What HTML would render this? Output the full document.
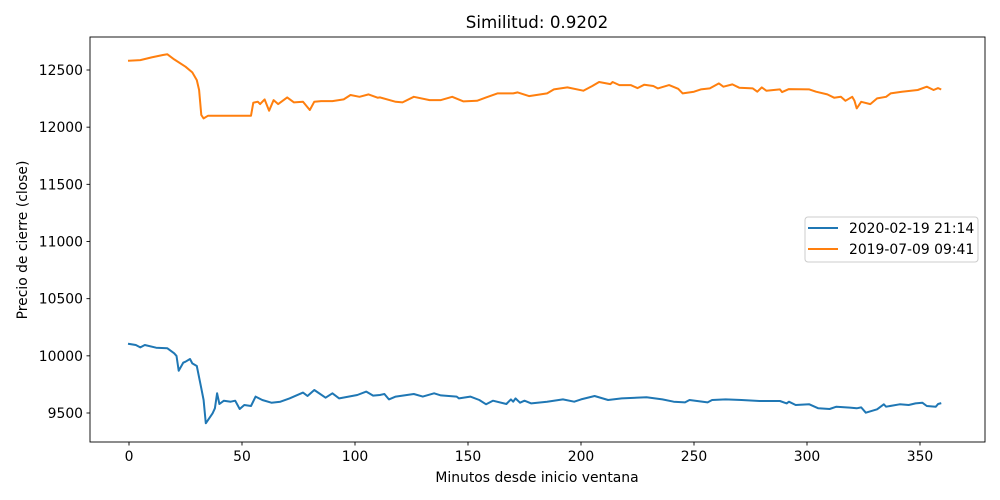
<!DOCTYPE html>
<html><head><meta charset="utf-8"><style>
html,body{margin:0;padding:0;background:#fff;}
svg{display:block;font-family:"DejaVu Sans","Liberation Sans",sans-serif;}
</style></head><body>
<svg id="chart" width="1000" height="500" viewBox="0 0 1000 500">
<rect width="1000" height="500" fill="#fff"/>
<text x="537" y="28" font-size="16.7" text-anchor="middle">Similitud: 0.9202</text>
<g id="grid"></g>
<g id="series"></g>
<rect x="90" y="37" width="895" height="405" fill="none" stroke="#000" stroke-width="0.9"/>
<g id="ticks"></g>
<text x="537" y="482" font-size="13.9" text-anchor="middle">Minutos desde inicio ventana</text>
<text transform="translate(27,240) rotate(-90)" font-size="13.9" text-anchor="middle">Precio de cierre (close)</text>
<g>
<rect x="805" y="217" width="173" height="45" rx="3" fill="#fff" fill-opacity="0.8" stroke="#ccc" stroke-width="1"/>
<line x1="808" y1="228" x2="838" y2="228" stroke="#1f77b4" stroke-width="2"/>
<text x="849" y="233" font-size="13.9">2020-02-19 21:14</text>
<line x1="808" y1="249" x2="838" y2="249" stroke="#ff7f0e" stroke-width="2"/>
<text x="849" y="254" font-size="13.9">2019-07-09 09:41</text>
</g>
</svg>
<script>
const xTicks = [0,50,100,150,200,250,300,350];
const yTicks = [9500,10000,10500,11000,11500,12000,12500];
const blueMin = [0,3,5,7,12,17,20,21,22,24,25,27,28,30,32,33,34,37,38,39,40,42,45,47,49,51,54,56,59,63,67,71,77,79,82,87,90,93,101,105,108,111,113,115,118,126,130,135,138,145,146,151,155,158,161,167,169,170,171,173,175,178,185,192,197,200,206,212,218,229,236,241,246,248,256,258,264,271,279,288,291,292,295,301,305,310,313,319,322,324,326,331,334,335,341,345,348,351,353,357,358,359];
const blueVal = [10104,10095,10074,10095,10071,10066,10022,9999,9870,9940,9949,9972,9934,9911,9716,9614,9410,9497,9541,9672,9579,9608,9599,9608,9535,9570,9561,9643,9614,9590,9599,9628,9678,9649,9701,9634,9672,9628,9657,9687,9652,9657,9666,9619,9643,9666,9643,9672,9654,9643,9628,9643,9614,9576,9608,9579,9619,9599,9628,9590,9608,9584,9599,9619,9599,9619,9649,9614,9628,9637,9619,9599,9593,9614,9593,9614,9619,9614,9605,9605,9584,9599,9570,9576,9541,9535,9555,9547,9541,9549,9503,9532,9576,9555,9576,9570,9584,9590,9561,9555,9579,9584];
const orangeMin = [0,5,10,15,17,20,25,28,30,31,32,33,35,54,55,57,58,60,62,64,66,70,73,77,80,82,85,90,95,98,102,106,110,111,118,121,126,133,138,143,148,154,158,163,170,172,177,185,188,194,201,205,208,213,214,217,222,225,228,232,234,239,243,245,250,253,257,261,263,267,270,276,278,280,282,288,289,292,301,304,309,312,315,317,320,321,322,324,328,331,335,337,342,349,353,356,358,359];
const orangeVal = [12581,12587,12610,12631,12637,12593,12529,12479,12412,12325,12106,12077,12100,12100,12214,12223,12202,12243,12144,12237,12202,12260,12217,12223,12150,12223,12228,12228,12243,12281,12266,12287,12258,12260,12222,12217,12266,12237,12237,12266,12225,12231,12260,12295,12295,12304,12272,12295,12330,12348,12319,12360,12395,12377,12395,12368,12368,12342,12371,12360,12339,12368,12336,12295,12310,12330,12339,12383,12354,12374,12345,12339,12310,12348,12319,12330,12307,12333,12330,12310,12287,12258,12266,12231,12266,12231,12164,12222,12202,12252,12266,12295,12310,12325,12354,12325,12342,12333];

const NS = 'http://www.w3.org/2000/svg';
function xScale(m){ return 129 + m * 2.26; }
function yScale(v){ return 70 + (12500 - v) * 0.114333; }

const ticks = document.getElementById('ticks');
xTicks.forEach(t => {
  const x = xScale(t);
  const l = document.createElementNS(NS,'line');
  l.setAttribute('x1',x); l.setAttribute('x2',x); l.setAttribute('y1',442); l.setAttribute('y2',445.5);
  l.setAttribute('stroke','#000'); l.setAttribute('stroke-width','0.9');
  
  
  ticks.appendChild(l);
  const tx = document.createElementNS(NS,'text');
  tx.setAttribute('x',x); tx.setAttribute('y',461); tx.setAttribute('font-size','13.9'); tx.setAttribute('text-anchor','middle');
  tx.textContent = t;
  
  
  ticks.appendChild(tx);
});
yTicks.forEach(t => {
  const y = yScale(t);
  const l = document.createElementNS(NS,'line');
  l.setAttribute('x1',86.5); l.setAttribute('x2',90); l.setAttribute('y1',y); l.setAttribute('y2',y);
  l.setAttribute('stroke','#000'); l.setAttribute('stroke-width','0.9');
  
  
  ticks.appendChild(l);
  const tx = document.createElementNS(NS,'text');
  tx.setAttribute('x',83); tx.setAttribute('y',y+5); tx.setAttribute('font-size','13.9'); tx.setAttribute('text-anchor','end');
  tx.textContent = t;
  
  
  ticks.appendChild(tx);
});

const series = document.getElementById('series');
function drawLine(ms, vs, color, name){
  const p = document.createElementNS(NS,'polyline');
  p.setAttribute('points', ms.map((m,i)=> xScale(m).toFixed(1)+','+yScale(vs[i]).toFixed(1)).join(' '));
  p.setAttribute('fill','none'); p.setAttribute('stroke',color); p.setAttribute('stroke-width','2');
  p.setAttribute('stroke-linejoin','round'); p.setAttribute('stroke-linecap','square');
  
  
  series.appendChild(p);
}
drawLine(blueMin, blueVal, '#1f77b4', 'series-2020-02-19');
drawLine(orangeMin, orangeVal, '#ff7f0e', 'series-2019-07-09');
</script>
</body></html>
